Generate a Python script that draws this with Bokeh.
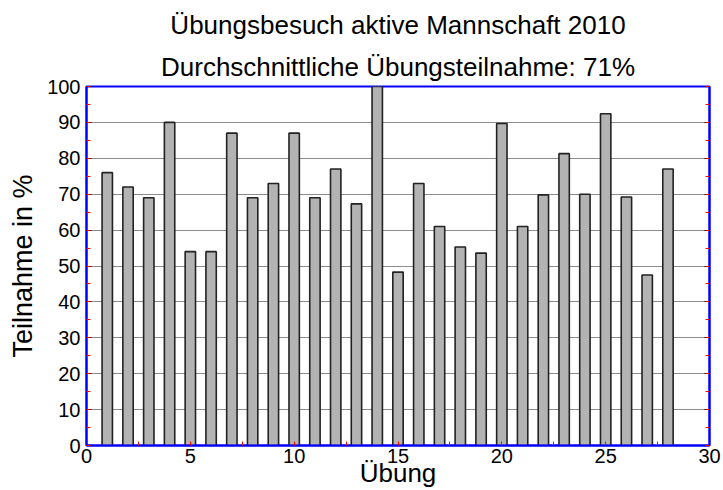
from bokeh.plotting import figure
from bokeh.models import (ColumnDataSource, LinearAxis, SingleIntervalTicker,
                          Range1d, Title, CustomJSTickFormatter)
from bokeh.embed import file_html
from bokeh.resources import INLINE

# ---- data ----
uebung = list(range(1, 29))
teilnahme = [76, 72, 69, 90, 54, 54, 87, 69, 73, 87, 69, 77, 67.3, 100,
             48.3, 73, 61, 55.3, 53.6, 89.7, 61, 69.8, 81.3, 70, 92.4,
             69.2, 47.5, 77]
title_line1 = "Übungsbesuch aktive Mannschaft 2010"
title_line2 = "Durchschnittliche Übungsteilnahme: 71%"
x_label = "Übung"
y_label = "Teilnahme in %"

FONT = "Liberation Sans"

source = ColumnDataSource(data=dict(x=uebung, top=teilnahme))

p = figure(width=723, height=490, x_range=Range1d(0, 30), y_range=Range1d(0, 100),
           output_backend="svg", toolbar_location=None,
           min_border_left=86, min_border_right=14, min_border_top=86,
           min_border_bottom=42, x_axis_location=None, y_axis_location=None)

p.background_fill_color = "white"
p.border_fill_color = "white"
p.outline_line_color = "#0000ff"
p.outline_line_width = 2

p.vbar(x="x", top="top", bottom=0, width=0.5, source=source,
       fill_color="#b3b3b3", line_color="#222222", line_width=1.6)

def style_axis(ax):
    ax.axis_line_color = "#0000ff"
    ax.axis_line_width = 2
    ax.major_tick_line_color = "black"
    ax.major_tick_in = 5
    ax.major_tick_out = 0
    ax.minor_tick_line_color = "red"
    ax.minor_tick_in = 4
    ax.minor_tick_out = 0
    ax.major_label_text_font = FONT
    ax.major_label_text_font_size = "20px"
    ax.major_label_text_color = "black"
    ax.axis_label_text_font = FONT
    ax.axis_label_text_font_style = "normal"
    ax.axis_label_text_color = "black"

yticker = SingleIntervalTicker(interval=10, num_minor_ticks=2)
xticker = SingleIntervalTicker(interval=5, num_minor_ticks=2)

yl = LinearAxis(ticker=yticker, axis_label=y_label)
style_axis(yl)
yl.axis_label_text_font_size = "27px"
yl.major_label_standoff = 6
yl.axis_label_standoff = 6
p.add_layout(yl, "left")

yr = LinearAxis(ticker=yticker, formatter=CustomJSTickFormatter(code="return ''"))
style_axis(yr)
yr.major_label_standoff = 0
p.add_layout(yr, "right")

xb = LinearAxis(ticker=xticker, axis_label=x_label)
style_axis(xb)
xb.axis_label_text_font_size = "26px"
xb.major_tick_in = 0
xb.major_label_standoff = 3
xb.axis_label_standoff = -8
p.add_layout(xb, "below")

p.xgrid.visible = False
p.ygrid.ticker = yticker
p.ygrid.grid_line_color = "#8c8c8c"
p.ygrid.grid_line_width = 1

t2 = Title(text=title_line2, align="center", text_font=FONT, text_color="black",
           text_font_size="26px", text_font_style="normal", text_line_height=1.0)
t1 = Title(text=title_line1, align="center", text_font=FONT, text_color="black",
           text_font_size="26px", text_font_style="normal")
p.add_layout(t2, "above")
p.add_layout(t1, "above")

open("out.html", "w").write(file_html(p, INLINE))
